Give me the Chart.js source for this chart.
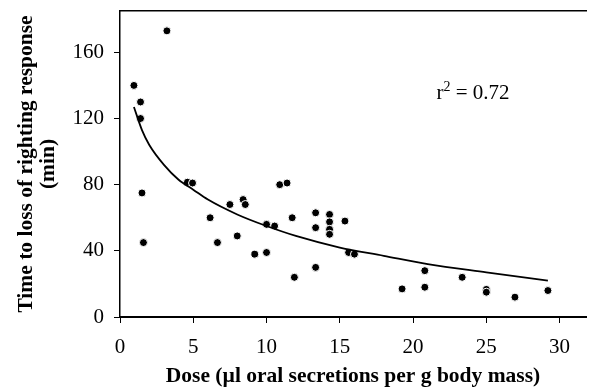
<!DOCTYPE html>
<html>
<head>
<meta charset="utf-8">
<script src="https://cdn.jsdelivr.net/npm/chart.js@4"></script>
<style>
  html, body { margin: 0; padding: 0; background: #fff; }
  #wrap { width: 591px; height: 388px; position: relative; }
</style>
</head>
<body>
<div id="wrap"><canvas id="doseChart"></canvas></div>
<script>
// Dose (ul oral secretions per g body mass) vs time to loss of righting response (min)
const doseValues = [0.95, 1.4, 1.4, 1.5, 1.6, 3.2, 4.6, 4.95, 6.15, 6.65, 7.5, 8.0, 8.4, 8.55,
    9.2, 10.0, 10.0, 10.55, 10.9, 11.4, 11.75, 11.9, 13.35, 13.35, 13.35, 14.3, 14.3, 14.3, 14.3,
    15.35, 15.6, 16.0, 19.25, 20.8, 20.8, 23.35, 25.0, 25.0, 26.95, 29.2];
const timeValues = [140, 130, 120, 75, 45, 173, 81.5, 81, 60, 45, 68, 49, 71, 68,
    38, 39, 56, 55, 80, 81, 60, 24, 63, 54, 30, 62, 57.5, 53, 50,
    58, 39, 38, 17, 28, 18, 24, 16.7, 15, 12, 16];

// fitted curve
const curveDose = [0.95, 1.5, 2, 3, 4, 5, 6, 8, 10, 12, 15, 18, 21, 25, 29.2];
const curveTime = [127, 113, 104, 92, 83, 77, 71, 62, 55, 49, 42, 37, 32, 27, 22];

const xTicks = [0, 5, 10, 15, 20, 25, 30];
const yTicks = [0, 40, 80, 120, 160];
const rSquared = '0.72';

const serif = "'Liberation Serif', 'Times New Roman', serif";

const points = doseValues.map((d, i) => ({ x: d, y: timeValues[i] }));
const curve = curveDose.map((d, i) => ({ x: d, y: curveTime[i] }));

// r^2 label drawn in data space
const rLabel = {
    id: 'rLabel',
    afterDraw(chart) {
        const ctx = chart.ctx;
        const x = chart.scales.x.getPixelForValue(21.6);
        const y = chart.scales.y.getPixelForValue(132);
        ctx.save();
        ctx.fillStyle = '#000';
        ctx.textBaseline = 'alphabetic';
        ctx.font = '21px ' + serif;
        ctx.fillText('r', x, y);
        let w = ctx.measureText('r').width;
        ctx.font = '14px ' + serif;
        ctx.fillText('2', x + w, y - 8);
        w += ctx.measureText('2').width;
        ctx.font = '21px ' + serif;
        ctx.fillText(' = ' + rSquared, x + w, y);
        ctx.restore();
    }
};

const ctx = document.getElementById('doseChart').getContext('2d');
const doseChart = new Chart(ctx, {
    type: 'scatter',
    data: {
        datasets: [
            {
                type: 'line',
                data: curve,
                borderColor: '#000',
                borderWidth: 1.8,
                pointRadius: 0,
                fill: false,
                cubicInterpolationMode: 'monotone',
                order: 0
            },
            {
                data: points,
                backgroundColor: '#000',
                borderColor: '#fff',
                borderWidth: 1,
                pointRadius: 4,
                order: 1
            }
        ]
    },
    options: {
        responsive: true,
        maintainAspectRatio: false,
        animation: false,
        layout: { padding: 0 },
        plugins: {
            legend: { display: false },
            tooltip: { enabled: false }
        },
        scales: {
            x: {
                type: 'linear',
                position: 'bottom',
                min: 0,
                max: 31.8,
                afterBuildTicks: s => { s.ticks = xTicks.map(v => ({ value: v })); },
                afterFit: s => { s.height = 71; s.paddingLeft = 0; s.paddingRight = 0; },
                grid: { drawOnChartArea: false, drawTicks: true, tickLength: 6, color: '#000', lineWidth: 1 },
                border: { display: true, color: '#000', width: 2 },
                ticks: { color: '#000', padding: 12, maxRotation: 0, font: { family: serif, size: 21 } },
                title: {
                    display: true,
                    text: 'Dose (\u00b5l oral secretions per g body mass)',
                    color: '#000',
                    padding: { top: 0, bottom: 1 },
                    font: { family: serif, size: 21.5, weight: 'bold', lineHeight: 1 }
                }
            },
            x2: {
                type: 'linear',
                position: 'top',
                min: 0,
                max: 31.8,
                afterFit: s => { s.height = 11; s.paddingLeft = 0; s.paddingRight = 0; },
                grid: { display: false },
                border: { display: true, color: '#000', width: 1.5 },
                ticks: { display: false }
            },
            y: {
                min: 0,
                max: 185,
                afterBuildTicks: s => { s.ticks = yTicks.map(v => ({ value: v })); },
                afterFit: s => { s.width = 120; s.paddingTop = 0; s.paddingBottom = 0; },
                grid: { drawOnChartArea: false, drawTicks: true, tickLength: 6, color: '#000', lineWidth: 1 },
                border: { display: true, color: '#000', width: 1.5 },
                ticks: { color: '#000', padding: 10, font: { family: serif, size: 21 } },
                title: {
                    display: true,
                    text: ['Time to loss of righting response', '(min)'],
                    color: '#000',
                    padding: { top: 16, bottom: 0 },
                    font: { family: serif, size: 21.5, weight: 'bold', lineHeight: 1 }
                }
            }
        }
    },
    plugins: [rLabel]
});
</script>
</body>
</html>
